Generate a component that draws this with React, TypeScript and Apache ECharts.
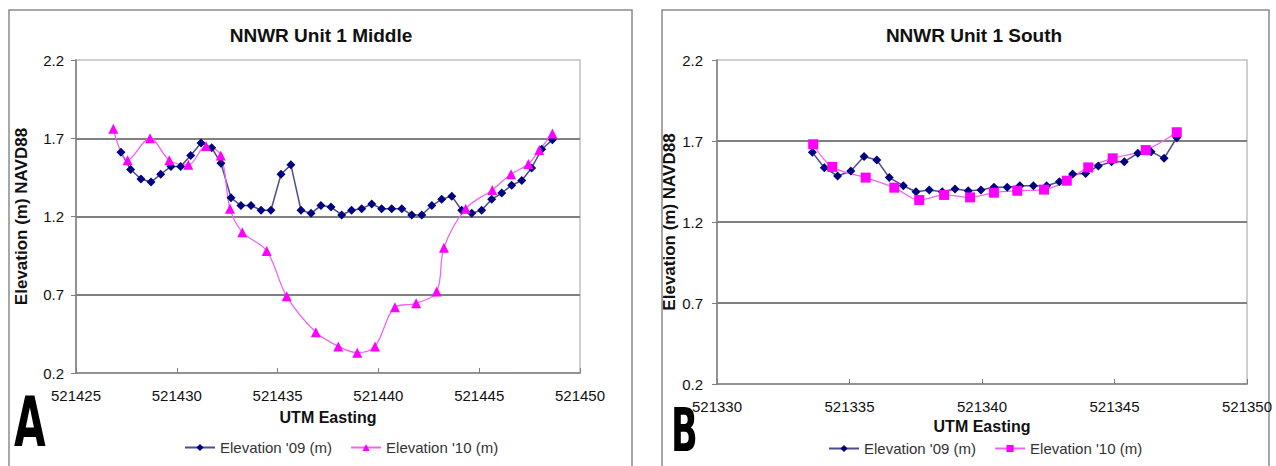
import React, { useEffect, useRef } from "react";
import * as echarts from "echarts";

// ---- Data ----
const middleX09 = [521427.23, 521427.71, 521428.22, 521428.72, 521429.2, 521429.71, 521430.19, 521430.69, 521431.2, 521431.73, 521432.19, 521432.69, 521433.18, 521433.68, 521434.18, 521434.67, 521435.17, 521435.66, 521436.16, 521436.66, 521437.15, 521437.65, 521438.18, 521438.67, 521439.17, 521439.67, 521440.16, 521440.66, 521441.16, 521441.65, 521442.15, 521442.65, 521443.14, 521443.64, 521444.13, 521444.63, 521445.12, 521445.62, 521446.12, 521446.61, 521447.11, 521447.6, 521448.1, 521448.63];
const middleY09 = [1.61, 1.5, 1.44, 1.42, 1.47, 1.52, 1.52, 1.59, 1.67, 1.64, 1.54, 1.32, 1.27, 1.27, 1.24, 1.24, 1.47, 1.53, 1.24, 1.22, 1.27, 1.26, 1.21, 1.24, 1.25, 1.28, 1.25, 1.25, 1.25, 1.21, 1.21, 1.27, 1.31, 1.33, 1.24, 1.22, 1.24, 1.31, 1.35, 1.4, 1.43, 1.51, 1.63, 1.69];
const middleX10 = [521426.85, 521427.56, 521428.67, 521429.63, 521430.57, 521431.45, 521432.18, 521432.64, 521433.25, 521434.46, 521435.45, 521436.9, 521438.01, 521438.95, 521439.83, 521440.82, 521441.87, 521442.89, 521443.25, 521444.33, 521445.65, 521446.58, 521447.44, 521447.98, 521448.63];
const middleY10 = [1.76, 1.56, 1.7, 1.56, 1.53, 1.65, 1.59, 1.25, 1.1, 0.98, 0.69, 0.46, 0.37, 0.33, 0.37, 0.62, 0.645, 0.72, 1.0, 1.25, 1.37, 1.47, 1.535, 1.625, 1.73];

const southX09 = [521333.6, 521334.05, 521334.55, 521335.05, 521335.55, 521336.03, 521336.5, 521337.03, 521337.51, 521338.01, 521338.5, 521338.98, 521339.48, 521339.96, 521340.45, 521340.95, 521341.43, 521341.94, 521342.44, 521342.92, 521343.42, 521343.91, 521344.39, 521344.89, 521345.37, 521345.88, 521346.38, 521346.87, 521347.35];
const southY09 = [1.63, 1.535, 1.484, 1.515, 1.604, 1.583, 1.474, 1.424, 1.387, 1.398, 1.387, 1.404, 1.393, 1.398, 1.414, 1.414, 1.424, 1.424, 1.424, 1.449, 1.496, 1.5, 1.546, 1.572, 1.572, 1.624, 1.634, 1.593, 1.72];
const southX10 = [521333.63, 521334.35, 521335.61, 521336.69, 521337.63, 521338.57, 521339.55, 521340.45, 521341.33, 521342.34, 521343.2, 521344.01, 521344.93, 521346.18, 521347.35];
const southY10 = [1.68, 1.54, 1.474, 1.412, 1.336, 1.367, 1.352, 1.381, 1.393, 1.4, 1.455, 1.537, 1.593, 1.644, 1.754];

const chartTitles = ["NNWR Unit 1 Middle", "NNWR Unit 1 South"];
const panelLetters = ["A", "B"];
const seriesLabels: Record<string, string> = {
  mid09: "Elevation '09 (m)",
  mid10: "Elevation '10 (m)",
  south09: "Elevation '09 (m)",
  south10: "Elevation '10 (m)",
};
const xRanges = [
  [521425, 521450],
  [521330, 521350],
];
const yRange = [0.2, 2.2];

const FONT = "'Liberation Sans', Arial, sans-serif";
const zip = (xs: number[], ys: number[]) => xs.map((x, i) => [x, ys[i]]);

export default function App() {
  const ref = useRef<HTMLDivElement>(null);
  useEffect(() => {
    document.body.style.margin = "0";
    if (!ref.current) return;
    const chart = echarts.init(ref.current, undefined, { renderer: "svg" });

    const grids = [
      { left: 76, top: 60, width: 504, height: 313 },
      { left: 717, top: 60, width: 530, height: 324 },
    ];
    const mkX = (i: number, labelMargin: number, nameGap: number) => ({
      gridIndex: i,
      type: "value",
      min: xRanges[i][0],
      max: xRanges[i][1],
      interval: 5,
      axisLine: { show: true, lineStyle: { color: "#7f7f7f", width: 1.5 } },
      axisTick: { show: true, inside: true, length: 5, lineStyle: { color: "#7f7f7f", width: 1 } },
      axisLabel: { formatter: (v: number) => String(v), fontSize: 15, color: "#111", margin: labelMargin, fontFamily: FONT },
      splitLine: { show: false },
      name: "UTM Easting",
      nameLocation: "middle",
      nameGap,
      nameTextStyle: { fontWeight: "bold", fontSize: 16, color: "#111", fontFamily: FONT },
    });
    const mkY = (i: number, labelMargin: number, nameGap: number) => ({
      gridIndex: i,
      type: "value",
      min: yRange[0],
      max: yRange[1],
      interval: 0.5,
      axisLine: { show: true, lineStyle: { color: "#7f7f7f", width: 1.5 } },
      axisTick: { show: true, inside: false, length: 5, lineStyle: { color: "#7f7f7f", width: 1 } },
      axisLabel: { formatter: (v: number) => v.toFixed(1), fontSize: 15, color: "#111", margin: labelMargin, fontFamily: FONT },
      splitLine: { show: true, showMinLine: false, showMaxLine: false, lineStyle: { color: "#808080", width: 2 } },
      name: "Elevation (m) NAVD88",
      nameLocation: "middle",
      nameRotate: 90,
      nameGap,
      nameTextStyle: { fontWeight: "bold", fontSize: 17, color: "#111", fontFamily: FONT },
    });

    const blueSeries = (id: string, idx: number, data: number[][]) => ({
      name: id,
      type: "line",
      xAxisIndex: idx,
      yAxisIndex: idx,
      data,
      symbol: "diamond",
      symbolSize: 9,
      itemStyle: { color: "#000080" },
      lineStyle: { color: "#4d4d8f", width: 1.5 },
    });
    const pinkSeries = (id: string, idx: number, data: number[][], symbol: string, size: number) => ({
      name: id,
      type: "line",
      xAxisIndex: idx,
      yAxisIndex: idx,
      data,
      symbol,
      symbolSize: size,
      smooth: 0.35,
      itemStyle: { color: "#ff00ff" },
      lineStyle: { color: "#ee66ee", width: 1.3 },
    });

    const legendBase = {
      orient: "horizontal",
      itemWidth: 30,
      itemHeight: 9,
      itemGap: 18,
      textStyle: { fontSize: 15, color: "#333", fontFamily: FONT },
      formatter: (n: string) => seriesLabels[n],
      selectedMode: false,
    };

    const option: any = {
      animation: false,
      textStyle: { fontFamily: FONT },
      grid: grids.map((g) => ({ ...g, show: true, borderColor: "#c0c0c0", borderWidth: 1.5, backgroundColor: "transparent" })),
      xAxis: [mkX(0, 15, 36), mkX(1, 15, 34)],
      yAxis: [mkY(0, 12, 46), mkY(1, 14, 36)],
      legend: [
        { ...legendBase, left: 179, top: 435, data: ["mid09", "mid10"] },
        { ...legendBase, left: 823, top: 436, data: ["south09", "south10"] },
      ],
      series: [
        blueSeries("mid09", 0, zip(middleX09, middleY09)),
        pinkSeries("mid10", 0, zip(middleX10, middleY10), "triangle", 10),
        blueSeries("south09", 1, zip(southX09, southY09)),
        pinkSeries("south10", 1, zip(southX10, southY10), "rect", 10),
      ],
      graphic: [
        { type: "rect", shape: { x: 9, y: 10, width: 623, height: 470 }, style: { fill: "none", stroke: "#8a8a8a", lineWidth: 1.5 }, silent: true },
        { type: "rect", shape: { x: 662, y: 10, width: 607, height: 470 }, style: { fill: "none", stroke: "#8a8a8a", lineWidth: 1.5 }, silent: true },
        { type: "text", x: 321, y: 35, style: { text: chartTitles[0], textAlign: "center", textVerticalAlign: "middle", font: `bold 19px ${FONT}`, fill: "#111" } },
        { type: "text", x: 974, y: 35, style: { text: chartTitles[1], textAlign: "center", textVerticalAlign: "middle", font: `bold 19px ${FONT}`, fill: "#111" } },
        { type: "text", x: 14, y: 457, scaleX: 0.65, style: { text: panelLetters[0], textAlign: "left", textVerticalAlign: "bottom", font: `bold 70px 'DejaVu Sans Condensed', 'DejaVu Sans', sans-serif`, fill: "#000" } },
        { type: "text", x: 671, y: 460, scaleX: 0.65, style: { text: panelLetters[1], textAlign: "left", textVerticalAlign: "bottom", font: `bold 60px 'DejaVu Sans Condensed', 'DejaVu Sans', sans-serif`, fill: "#000" } },
      ],
    };
    chart.setOption(option);
    return () => chart.dispose();
  }, []);
  return <div ref={ref} style={{ width: 1276, height: 466, background: "#fff" }} />;
}
